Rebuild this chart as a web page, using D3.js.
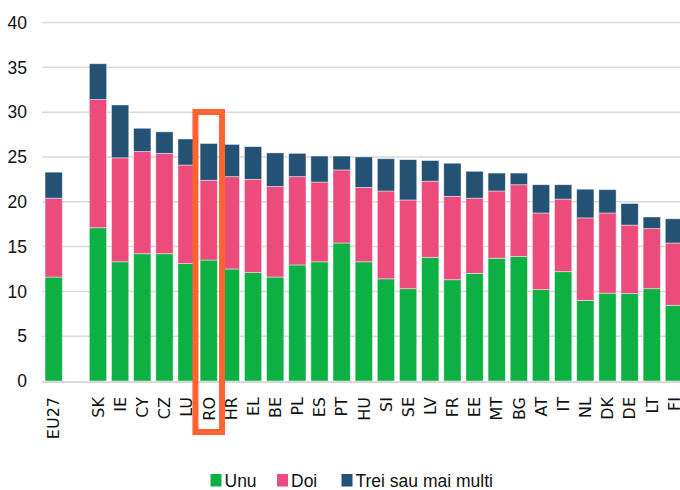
<!DOCTYPE html>
<html>
<head>
<meta charset="utf-8">
<script src="https://cdn.jsdelivr.net/npm/d3@7"></script>
<style>
  html, body { margin: 0; padding: 0; background: #fff; }
  svg { display: block; }
</style>
</head>
<body>
<svg id="chart" width="680" height="490"></svg>
<script>
const categories = ["EU27", " ", "SK", "IE", "CY", "CZ", "LU", "RO", "HR", "EL", "BE", "PL", "ES", "PT", "HU", "SI", "SE", "LV", "FR", "EE", "MT", "BG", "AT", "IT", "NL", "DK", "DE", "LT", "FI"];
const unu  = [11.6, null, 17.1, 13.3, 14.2, 14.2, 13.1, 13.5, 12.5, 12.1, 11.6, 12.95, 13.3, 15.4, 13.3, 11.4, 10.3, 13.8, 11.3, 12.0, 13.7, 13.9, 10.2, 12.2, 9.0, 9.8, 9.75, 10.3, 8.45];
const doi  = [8.8, null, 14.3, 11.6, 11.4, 11.2, 11.0, 8.9, 10.3, 10.4, 10.1, 9.85, 8.9, 8.15, 8.3, 9.8, 9.9, 8.5, 9.3, 8.4, 7.5, 8.0, 8.55, 8.1, 9.2, 8.95, 7.65, 6.7, 6.95];
const trei = [2.9, null, 4.0, 5.9, 2.6, 2.4, 2.9, 4.1, 3.6, 3.65, 3.75, 2.6, 2.9, 1.55, 3.4, 3.6, 4.5, 2.3, 3.7, 3.0, 2.0, 1.3, 3.15, 1.6, 3.2, 2.6, 2.4, 1.3, 2.7];
const seriesNames = ["Unu", "Doi", "Trei sau mai multi"];
const seriesColors = ["#0db143", "#ec4c7c", "#245275"];
const yTicks = [0, 5, 10, 15, 20, 25, 30, 35, 40];
const highlight = "RO";

const svg = d3.select("#chart");
const x = d3.scaleBand().domain(categories).range([42.6, 685]).paddingInner(0.22).paddingOuter(0.11);
const y = d3.scaleLinear().domain([0, 40]).range([381, 22.5]);

// gridlines
svg.append("g").selectAll("line").data(yTicks.filter(d => d > 0)).join("line")
  .attr("x1", 42).attr("x2", 680)
  .attr("y1", d => y(d)).attr("y2", d => y(d))
  .attr("stroke", "#d9d9d9").attr("stroke-width", 1.5);

// y labels
svg.append("g").selectAll("text").data(yTicks).join("text")
  .attr("x", 27).attr("y", d => y(d)).attr("dy", "0.36em")
  .attr("text-anchor", "end")
  .attr("font-family", "Liberation Sans, Arial, sans-serif")
  .attr("font-size", 17.5).attr("fill", "#111")
  .text(d => d);

// stacked data
const rows = categories.map((c, i) => ({cat: c, Unu: unu[i], Doi: doi[i], "Trei sau mai multi": trei[i]}))
  .filter(r => r.Unu != null);
const stack = d3.stack().keys(seriesNames);
const stacked = stack(rows);

svg.append("g").selectAll("g").data(stacked).join("g")
  .attr("fill", (d, i) => seriesColors[i])
  .selectAll("rect").data(d => d).join("rect")
  .attr("x", d => x(d.data.cat))
  .attr("width", x.bandwidth())
  .attr("y", d => y(d[1]))
  .attr("height", d => y(d[0]) - y(d[1]))
  .attr("stroke", "rgba(255,255,255,0.55)")
  .attr("stroke-width", 0.8);

// x axis line
svg.append("line").attr("x1", 42).attr("x2", 680).attr("y1", y(0) + 1).attr("y2", y(0) + 1)
  .attr("stroke", "#d9d9d9").attr("stroke-width", 2);

// x labels
svg.append("g").selectAll("text").data(categories.filter(c => c.trim() !== "")).join("text")
  .attr("transform", d => `translate(${x(d) + x.bandwidth() / 2},397) rotate(-90)`)
  .attr("dy", "0.36em")
  .attr("text-anchor", "end")
  .attr("font-family", "DejaVu Sans, sans-serif")
  .attr("font-size", 16).attr("fill", "#111")
  .text(d => d);

// highlight rect
const hx = x(highlight) + x.bandwidth() / 2;
svg.append("rect")
  .attr("x", hx - 13.3).attr("y", 112)
  .attr("width", 26.6).attr("height", 320)
  .attr("fill", "none").attr("stroke", "#ff6331").attr("stroke-width", 6);

// legend
const legendX = [210.5, 277, 341.5];
const lg = svg.append("g").selectAll("g").data(seriesNames).join("g")
  .attr("transform", (d, i) => `translate(${legendX[i]},474)`);
lg.append("rect").attr("width", 11).attr("height", 12.5).attr("fill", (d, i) => seriesColors[i]);
lg.append("text").attr("x", 14).attr("y", 13)
  .attr("font-family", "Liberation Sans, Arial, sans-serif")
  .attr("font-size", 17.5).attr("fill", "#111")
  .text(d => d);
</script>
</body>
</html>
